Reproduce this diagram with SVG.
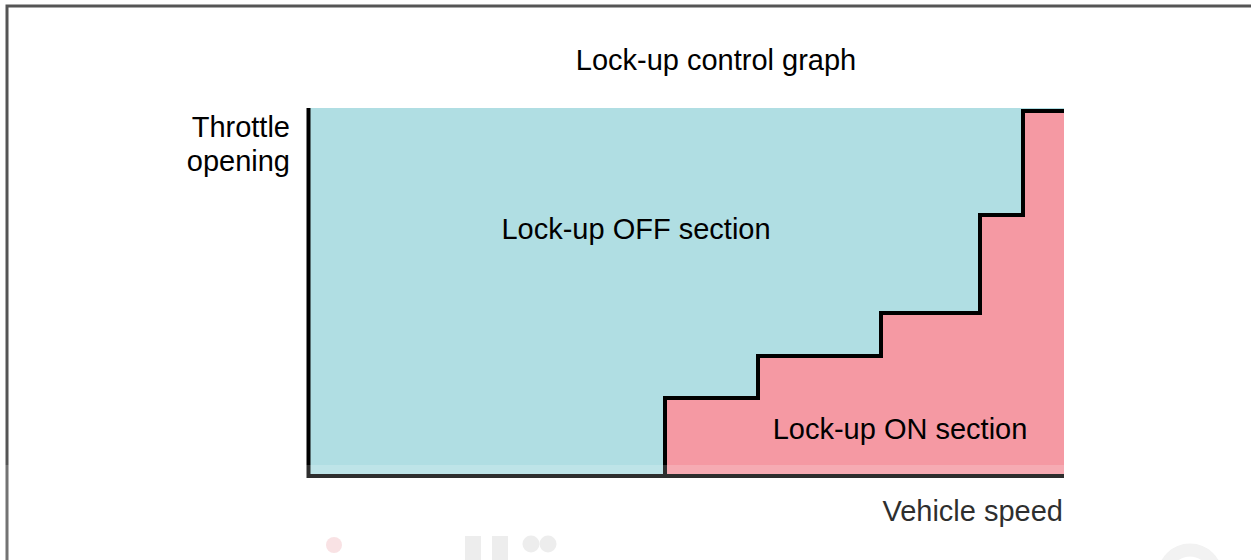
<svg xmlns="http://www.w3.org/2000/svg" width="1251" height="560" viewBox="0 0 1251 560">
  <style>
    .lbl { font-family: "Liberation Sans", Arial, sans-serif; font-size: 29px; fill: #000; }
    .edge { fill: none; stroke: #000; stroke-width: 4; stroke-linejoin: miter; }
  </style>
  <rect x="0" y="0" width="1251" height="560" fill="#fff"/>
  <!-- outer frame -->
  <path d="M7,560 V6 H1251" fill="none" stroke="#555" stroke-width="3"/>

  <text class="lbl" x="716" y="70" text-anchor="middle">Lock-up control graph</text>

  <!-- lock-up OFF region -->
  <g id="off-section">
    <rect x="309" y="108" width="755" height="368" fill="#B0DEE3"/>
    <text class="lbl" x="636" y="239" text-anchor="middle">Lock-up OFF section</text>
  </g>

  <!-- lock-up ON region, stepped boundary -->
  <g id="on-section">
    <path d="M665,476 V398 H758 V356 H881 V313 H980 V215 H1023 V111 H1064 V476 Z" fill="#F599A3"/>
    <text class="lbl" x="900" y="439" text-anchor="middle">Lock-up ON section</text>
  </g>

  <g id="connectors">
    <path class="edge" d="M665,476 V398 H758 V356 H881 V313 H980 V215 H1023 V111 H1064"/>
    <path class="edge" d="M308.5,108 V476 H1064"/>
  </g>

  <g id="axis-labels">
    <text class="lbl" x="290" y="137" text-anchor="end">Throttle</text>
    <text class="lbl" x="290" y="171" text-anchor="end">opening</text>
    <text class="lbl" x="1063" y="521" text-anchor="end" fill="#222">Vehicle speed</text>
  </g>

  <!-- faint marks along the lower edge -->
  <g>
    <circle cx="334" cy="545" r="8" fill="#F8DCDF"/>
    <rect x="465" y="536" width="16" height="24" fill="#EAEAEA"/>
    <rect x="492" y="536" width="16" height="24" fill="#EAEAEA"/>
    <circle cx="531" cy="544" r="8.5" fill="#EAEAEA"/>
    <circle cx="548" cy="544" r="8.5" fill="#EAEAEA"/>
    <circle cx="1190" cy="576" r="26" fill="none" stroke="#EFEFEF" stroke-width="13"/>
  </g>

  <!-- light haze over the bottom band -->
  <rect x="0" y="465" width="1251" height="95" fill="#fff" opacity="0.18"/>
</svg>
